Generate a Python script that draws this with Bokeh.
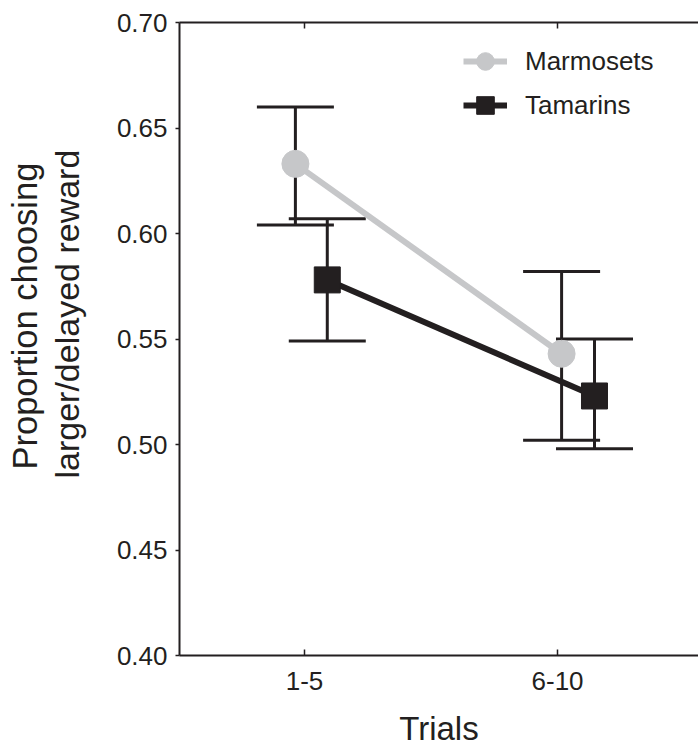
from bokeh.plotting import figure
from bokeh.models import (ColumnDataSource, Whisker, TeeHead, FixedTicker, LinearAxis,
                          Legend, LegendItem, Title, Range1d, NumeralTickFormatter)
from bokeh.embed import file_html
from bokeh.resources import INLINE

# ---- data ----
trial_labels = ["1-5", "6-10"]
trial_pos = [1, 2]
marm_x = [0.964, 2.016]
marm_mean = [0.633, 0.543]
marm_upper = [0.660, 0.582]
marm_lower = [0.604, 0.502]
tam_x = [1.090, 2.146]
tam_mean = [0.578, 0.523]
tam_upper = [0.607, 0.550]
tam_lower = [0.549, 0.498]
y_ticks = [0.40, 0.45, 0.50, 0.55, 0.60, 0.65, 0.70]
y_title_lines = ["Proportion choosing", "larger/delayed reward"]

FONT = "Liberation Sans"
INK = "#231f20"
GREY = "#c6c7c9"

p = figure(width=698, height=749, output_backend="svg", toolbar_location=None,
           x_range=Range1d(0.506, 2.557), y_range=Range1d(0.40, 0.70),
           min_border_left=179, min_border_top=22, min_border_right=0, min_border_bottom=92,
           outline_line_color=None, x_axis_type=None, y_axis_type=None)
p.background_fill_color = "white"

# left axis
yax = LinearAxis(ticker=FixedTicker(ticks=y_ticks), formatter=NumeralTickFormatter(format="0.00"))
yax.axis_line_width = 2
yax.axis_line_color = INK
yax.major_tick_line_color = INK
yax.major_tick_line_width = 1.5
yax.major_tick_out = 4
yax.major_tick_in = 0
yax.minor_tick_line_color = None
yax.major_label_text_font = FONT
yax.major_label_text_font_size = "26px"
yax.major_label_text_color = INK
yax.major_label_standoff = 8
p.add_layout(yax, "left")

# y-axis title: two vertical lines (inner line added first)
t_inner = Title(text=y_title_lines[1], align="left", offset=177, standoff=55,
                text_font=FONT, text_font_size="34px", text_font_style="normal", text_color=INK)
t_outer = Title(text=y_title_lines[0], align="left", offset=186, standoff=-50,
                text_font=FONT, text_font_size="34.5px", text_font_style="normal", text_color=INK)
p.add_layout(t_inner, "left")
p.add_layout(t_outer, "left")

# bottom axis
xax = LinearAxis(ticker=FixedTicker(ticks=trial_pos),
                 major_label_overrides={pos: lab for pos, lab in zip(trial_pos, trial_labels)})
xax.axis_line_width = 2
xax.axis_line_color = INK
xax.major_tick_line_color = INK
xax.major_tick_line_width = 1.5
xax.major_tick_in = 6
xax.major_tick_out = 0
xax.minor_tick_line_color = None
xax.major_label_text_font = FONT
xax.major_label_text_font_size = "26px"
xax.major_label_text_color = INK
xax.major_label_standoff = 16
xax.axis_label = "Trials"
xax.axis_label_text_font = FONT
xax.axis_label_text_font_size = "33px"
xax.axis_label_text_font_style = "normal"
xax.axis_label_text_color = INK
xax.axis_label_standoff = 17
p.add_layout(xax, "below")

# top axis (frame line with inner ticks, no labels)
tax = LinearAxis(ticker=FixedTicker(ticks=trial_pos))
tax.axis_line_width = 2
tax.axis_line_color = INK
tax.major_tick_line_color = INK
tax.major_tick_line_width = 1.5
tax.major_tick_in = 6
tax.major_tick_out = 0
tax.minor_tick_line_color = None
tax.major_label_text_font_size = "0px"
tax.major_label_text_color = None
tax.major_label_standoff = 0
p.add_layout(tax, "above")

# grid
p.ygrid.ticker = FixedTicker(ticks=y_ticks)
p.ygrid.grid_line_color = "#b4b8c8"
p.ygrid.grid_line_dash = "3 2"
p.ygrid.grid_line_width = 1
p.xgrid.visible = False

# error bars
msrc = ColumnDataSource(dict(x=marm_x, m=marm_mean, up=marm_upper, lo=marm_lower))
tsrc = ColumnDataSource(dict(x=tam_x, m=tam_mean, up=tam_upper, lo=tam_lower))
for src in (msrc, tsrc):
    w = Whisker(base="x", upper="up", lower="lo", source=src, dimension="height",
                line_color=INK, line_width=3, level="underlay",
                upper_head=TeeHead(size=77, line_color=INK, line_width=3),
                lower_head=TeeHead(size=77, line_color=INK, line_width=3))
    p.add_layout(w)

# series
ml = p.line("x", "m", source=msrc, line_color=GREY, line_width=6)
ms = p.scatter("x", "m", source=msrc, marker="circle", size=27, fill_color=GREY, line_color=GREY)
tl = p.line("x", "m", source=tsrc, line_color=INK, line_width=6)
ts = p.scatter("x", "m", source=tsrc, marker="square", size=26, fill_color=INK, line_color=INK)

legend = Legend(items=[LegendItem(label="Marmosets", renderers=[ml, ms]),
                       LegendItem(label="Tamarins", renderers=[tl, ts])],
                location=(284, 528), glyph_width=44, glyph_height=44, spacing=0,
                padding=0, margin=0, border_line_color=None, background_fill_alpha=0,
                label_text_font=FONT, label_text_font_size="26px", label_text_color=INK,
                label_standoff=18)
p.add_layout(legend)

open("out.html", "w").write(file_html(p, INLINE))
